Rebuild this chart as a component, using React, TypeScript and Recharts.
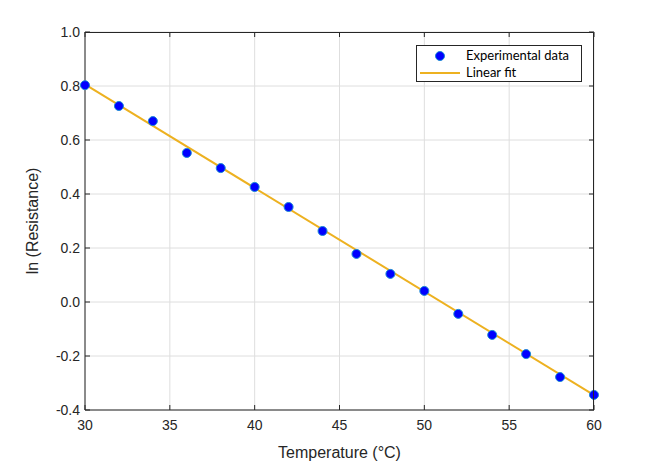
import React from "react";
import {
  ComposedChart,
  Line,
  XAxis,
  YAxis,
  CartesianGrid,
  Label,
} from "recharts";

// measured points
const temps = [30, 32, 34, 36, 38, 40, 42, 44, 46, 48, 50, 52, 54, 56, 58, 60];
const lnR = [
  0.803, 0.726, 0.67, 0.552, 0.496, 0.426, 0.352, 0.263, 0.178, 0.104, 0.041,
  -0.044, -0.122, -0.193, -0.278, -0.344,
];

// fitted line, read at both ends
const fitT = [30, 60];
const fitY = [0.806, -0.345];

const xTicks = [30, 35, 40, 45, 50, 55, 60];
const yTicks = [-0.4, -0.2, 0, 0.2, 0.4, 0.6, 0.8, 1.0];

const data = temps.map((t, i) => {
  const k = fitT.indexOf(t);
  return { t, exp: lnR[i], fit: k >= 0 ? fitY[k] : null };
});

const AXIS = "#262626";
const FONT = "'Liberation Sans', Arial, sans-serif";

// plot box (px)
const PL = 85;
const PT = 32;
const PW = 509;
const PH = 378;

const Dot = (props: any) => {
  const { cx, cy } = props;
  if (cx == null || cy == null) return null;
  return (
    <circle cx={cx} cy={cy} r={4.5} fill="#0000ff" stroke="#1a8ad4" strokeWidth={1} />
  );
};

// top/right edges of the box with inward ticks, like matlab's "box on"
const Frame = () => (
  <svg
    width={656}
    height={464}
    style={{ position: "absolute", left: 0, top: 0, pointerEvents: "none" }}
  >
    <path
      d={`M${PL},${PT + 0.5}H${PL + PW - 0.5}V${PT + PH}`}
      fill="none"
      stroke={AXIS}
      strokeWidth={1}
    />
    {xTicks.map((t) => {
      const x = PL + ((t - 30) / 30) * PW;
      return <line key={t} x1={x} y1={PT} x2={x} y2={PT + 5} stroke={AXIS} />;
    })}
    {yTicks.map((v) => {
      const y = PT + ((1.0 - v) / 1.4) * PH;
      return (
        <line key={v} x1={PL + PW} y1={y} x2={PL + PW - 5} y2={y} stroke={AXIS} />
      );
    })}
  </svg>
);

const LegendBox = () => (
  <div
    style={{
      position: "absolute",
      left: 416,
      top: 45,
      width: 164,
      height: 35,
      border: "1px solid #262626",
      background: "#fff",
      fontFamily: "Lato, sans-serif",
      fontSize: 13,
      color: "#000",
    }}
  >
    <svg width={50} height={35} style={{ position: "absolute", left: 0, top: 0 }}>
      <circle cx={23} cy={10} r={4.5} fill="#0000ff" stroke="#1a8ad4" />
      <line x1={3} y1={27} x2={43} y2={27} stroke="#EDB120" strokeWidth={2} />
    </svg>
    <div style={{ position: "absolute", left: 49, top: 1, lineHeight: "16px" }}>
      Experimental data
    </div>
    <div style={{ position: "absolute", left: 49, top: 18, lineHeight: "16px" }}>
      Linear fit
    </div>
  </div>
);

export default function App() {
  return (
    <div
      style={{
        position: "absolute",
        left: 0,
        top: 0,
        width: 656,
        height: 464,
        background: "#fff",
      }}
    >
      <ComposedChart
        width={656}
        height={464}
        data={data}
        margin={{ top: PT, right: 656 - PL - PW, left: 0, bottom: 0 }}
      >
        <CartesianGrid stroke="#dedede" strokeWidth={1} />
        <XAxis
          dataKey="t"
          type="number"
          domain={[30, 60]}
          ticks={xTicks}
          height={54}
          stroke={AXIS}
          tickSize={-5}
          tickMargin={15}
          tick={{ fill: AXIS, fontSize: 14, fontFamily: FONT }}
        >
          <Label
            value="Temperature (°C)"
            position="insideBottom"
            offset={6}
            style={{ fill: AXIS, fontSize: 16, fontFamily: FONT }}
          />
        </XAxis>
        <YAxis
          type="number"
          domain={[-0.4, 1.0]}
          ticks={yTicks}
          width={PL}
          stroke={AXIS}
          tickSize={-5}
          tickMargin={10}
          tickFormatter={(v: number) => v.toFixed(1)}
          tick={{ fill: AXIS, fontSize: 14, fontFamily: FONT }}
        >
          <Label
            value="ln (Resistance)"
            angle={-90}
            position="insideLeft"
            offset={32}
            style={{ fill: AXIS, fontSize: 16, fontFamily: FONT, textAnchor: "middle" }}
          />
        </YAxis>
        <Line
          dataKey="fit"
          stroke="#EDB120"
          strokeWidth={2}
          dot={false}
          activeDot={false}
          connectNulls
          isAnimationActive={false}
        />
        <Line
          dataKey="exp"
          stroke="none"
          dot={<Dot />}
          activeDot={false}
          isAnimationActive={false}
        />
      </ComposedChart>
      <Frame />
      <LegendBox />
    </div>
  );
}
